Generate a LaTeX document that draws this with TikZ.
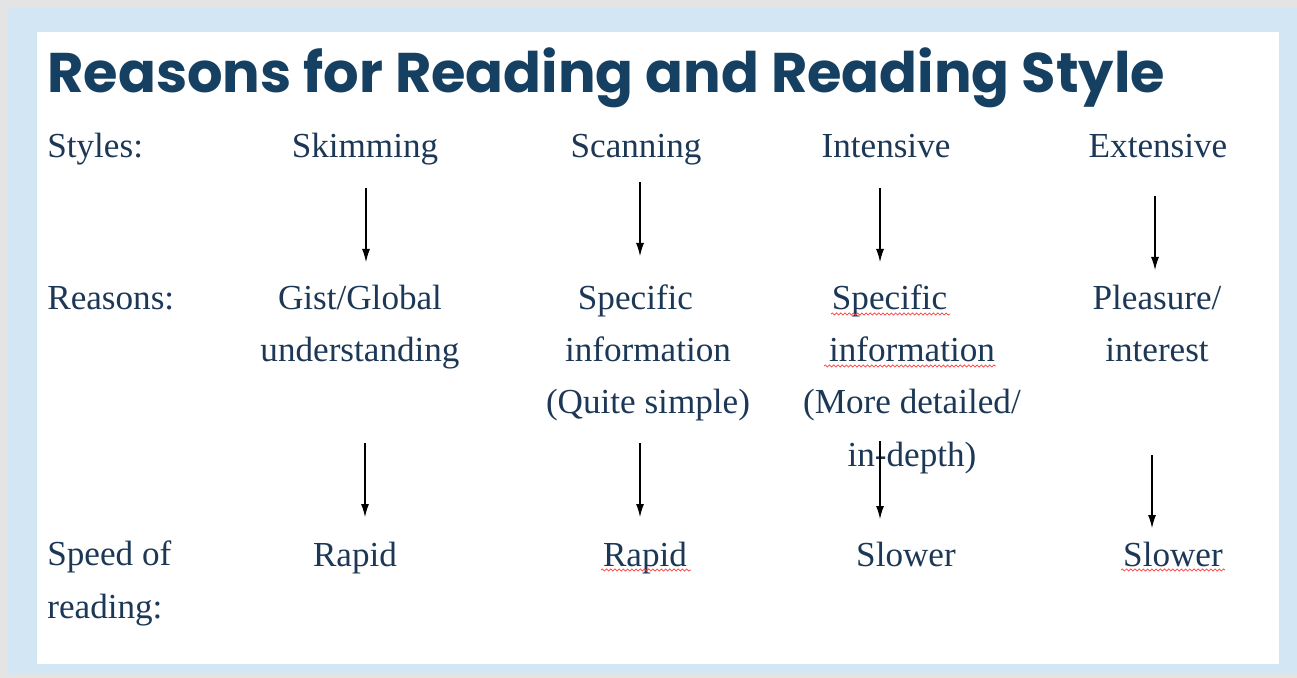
\documentclass[tikz,border=0pt]{standalone}
\usepackage{fontspec}
\setmainfont{Liberation Serif}
\newfontfamily\titlefont{Poppins}
\usetikzlibrary{arrows.meta,decorations.pathmorphing}

\definecolor{titleblue}{RGB}{22,64,98}
\definecolor{textblue}{RGB}{28,56,86}
\definecolor{paleblue}{RGB}{211,230,243}
\definecolor{framegray}{RGB}{228,228,228}

\tikzset{
  cell/.style={anchor=base, inner sep=0pt, text=textblue, align=center,
    font=\fontsize{20}{29.6}\selectfont},
  rowlabel/.style={cell, anchor=base west, align=left},
  downarrow/.style={-{Latex[length=2.6mm,width=1.6mm]}, line width=0.6pt, black},
  spellcheck/.style={red!75, line width=0.4pt,
    decorate, decoration={snake, amplitude=0.6pt, segment length=2.4pt}}
}

\begin{document}
\begin{tikzpicture}[x=0.02cm,y=-0.02cm]
  % frame
  \fill[framegray] (0,0) rectangle (1297,678);
  \fill[paleblue] (8,8) rectangle (1297,673);
  \fill[white] (37,32) rectangle (1279,664);
  \useasboundingbox (0,0) rectangle (1297,678);

  % title
  \node[anchor=base west, inner sep=0pt, text=titleblue,
    font=\titlefont\bfseries\fontsize{31.8}{32}\selectfont] (title) at (47,93)
    {Reasons for Reading and Reading Style};

  % row labels (multi-line nodes sit on their last line)
  \node[rowlabel] (lstyles) at (47,158) {Styles:};
  \node[rowlabel] (lreasons) at (47,310) {Reasons:};
  \node[rowlabel] (lspeed) at (47,618) {Speed of\\reading:};

  % styles
  \node[cell] (skim) at (365,158) {Skimming};
  \node[cell] (scan) at (636,158) {Scanning};
  \node[cell] (inten) at (886,158) {Intensive};
  \node[cell] (exten) at (1158,158) {Extensive};

  % reasons
  \node[cell] (gist) at (360,362) {Gist/Global\\understanding};
  \node[cell] (specA) at (648,414) {\hspace*{-0.5cm}Specific\\information\\(Quite simple)};
  \node[cell] (specB) at (912,466) {\hspace*{-0.9cm}Specific\\information\\(More detailed/\\in-depth)};
  \node[cell] (pleas) at (1157,362) {Pleasure/\\interest};

  % speed
  \node[cell] (rapidA) at (355,566) {Rapid};
  \node[cell] (rapidB) at (645,566) {Rapid};
  \node[cell] (slowA) at (906,566) {Slower};
  \node[cell] (slowB) at (1173,566) {Slower};

  % arrow ends
  \coordinate (a1) at (366,188); \coordinate (b1) at (366,262);
  \coordinate (a2) at (640,182); \coordinate (b2) at (640,256);
  \coordinate (a3) at (880,188); \coordinate (b3) at (880,262);
  \coordinate (a4) at (1155,196); \coordinate (b4) at (1155,270);
  \coordinate (c1) at (365,443); \coordinate (d1) at (365,517);
  \coordinate (c2) at (640,443); \coordinate (d2) at (640,517);
  \coordinate (c3) at (880,441); \coordinate (d3) at (880,519);
  \coordinate (c4) at (1152,455); \coordinate (d4) at (1152,528);

  \foreach \i in {1,2,3,4} {
    \draw[downarrow] (a\i) -- (b\i);
    \draw[downarrow] (c\i) -- (d\i);
  }

  % spelling marks
  \draw[spellcheck] (831,314) -- (950,314);
  \draw[spellcheck] (824,366) -- (996,366);
  \draw[spellcheck] (601,570) -- (691,570);
  \draw[spellcheck] (1121,570) -- (1225,570);
\end{tikzpicture}
\end{document}
